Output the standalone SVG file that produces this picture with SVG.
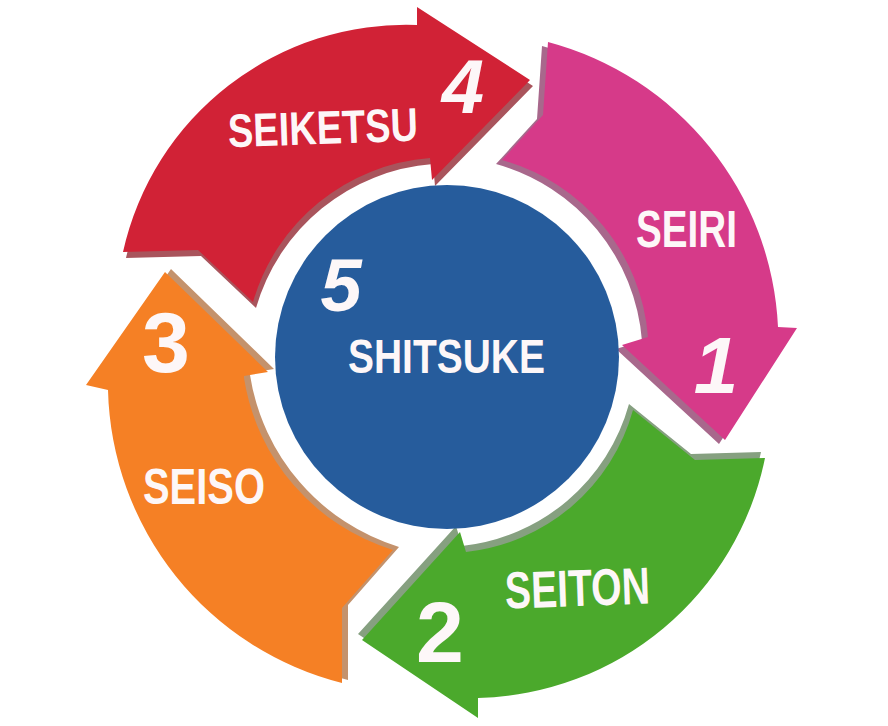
<svg xmlns="http://www.w3.org/2000/svg" width="888" height="726" viewBox="0 0 888 726">
<style>
.lbl{font-family:"Liberation Sans",Arial,sans-serif;font-weight:bold;fill:#fdf7f8}
.num{font-family:"Liberation Sans",Arial,sans-serif;font-weight:bold;fill:#fdf7f8;text-anchor:middle}
.it{font-style:italic}
</style>
<rect width="888" height="726" fill="#ffffff"/>
<g id="node-seiketsu">
<path transform="translate(3,6)" fill="#a9545c" d="M123,252 A290,290 0 0 1 417,25 L417,7 L530,80 L432,180 L430,158 A200,200 0 0 0 253,302 L198,250 Z"/>
<path fill="#d12236" d="M123,252 A290,290 0 0 1 417,25 L417,7 L530,80 L432,180 L430,158 A200,200 0 0 0 253,302 L198,250 Z"/>
<text class="lbl" x="228" y="144" font-size="47" textLength="190" lengthAdjust="spacingAndGlyphs" transform="rotate(-2 320 130)">SEIKETSU</text>
<text class="num it" x="463" y="113" font-size="76">4</text>
</g>
<g id="node-seiri">
<path transform="translate(-6,4)" fill="#a8688c" d="M548,42 A310,310 0 0 1 778,327 L797,328 L725,440 L622,345 L648,337 A200,200 0 0 0 502,160 L543,115 Z"/>
<path fill="#d63a89" d="M548,42 A310,310 0 0 1 778,327 L797,328 L725,440 L622,345 L648,337 A200,200 0 0 0 502,160 L543,115 Z"/>
<text class="lbl" x="636" y="247" font-size="51" textLength="101" lengthAdjust="spacingAndGlyphs">SEIRI</text>
<text class="num it" x="716" y="393" font-size="80">1</text>
</g>
<g id="node-seiton">
<path transform="translate(-4,-6)" fill="#86a080" d="M765,458 A300,300 0 0 1 478,698 L478,718 L362,640 L460,532 L466,552 A195,195 0 0 0 633,410 L695,460 Z"/>
<path fill="#4ba92c" d="M765,458 A300,300 0 0 1 478,698 L478,718 L362,640 L460,532 L466,552 A195,195 0 0 0 633,410 L695,460 Z"/>
<text class="lbl" x="505" y="606" font-size="52" textLength="145" lengthAdjust="spacingAndGlyphs" transform="rotate(-2 578 590)">SEITON</text>
<text class="num" x="440" y="662" font-size="86">2</text>
</g>
<g id="node-seiso">
<path transform="translate(6,-3)" fill="#c4926c" d="M342,683 A310,310 0 0 1 108,390 L86,385 L165,272 L268,372 L244,376 L244,378 A215,215 0 0 0 393,550 L342,608 Z"/>
<path fill="#f58025" d="M342,683 A310,310 0 0 1 108,390 L86,385 L165,272 L268,372 L244,376 L244,378 A215,215 0 0 0 393,550 L342,608 Z"/>
<text class="lbl" x="143" y="504" font-size="50" textLength="122" lengthAdjust="spacingAndGlyphs">SEISO</text>
<text class="num" x="166" y="372" font-size="86">3</text>
</g>
<g id="node-shitsuke">
<circle cx="447" cy="357" r="172" fill="#265c9c"/>
<text class="num it" x="341" y="311" font-size="74">5</text>
<text class="lbl" x="348" y="373" font-size="49" textLength="197" lengthAdjust="spacingAndGlyphs">SHITSUKE</text>
</g>
<g id="connectors"/>
</svg>
